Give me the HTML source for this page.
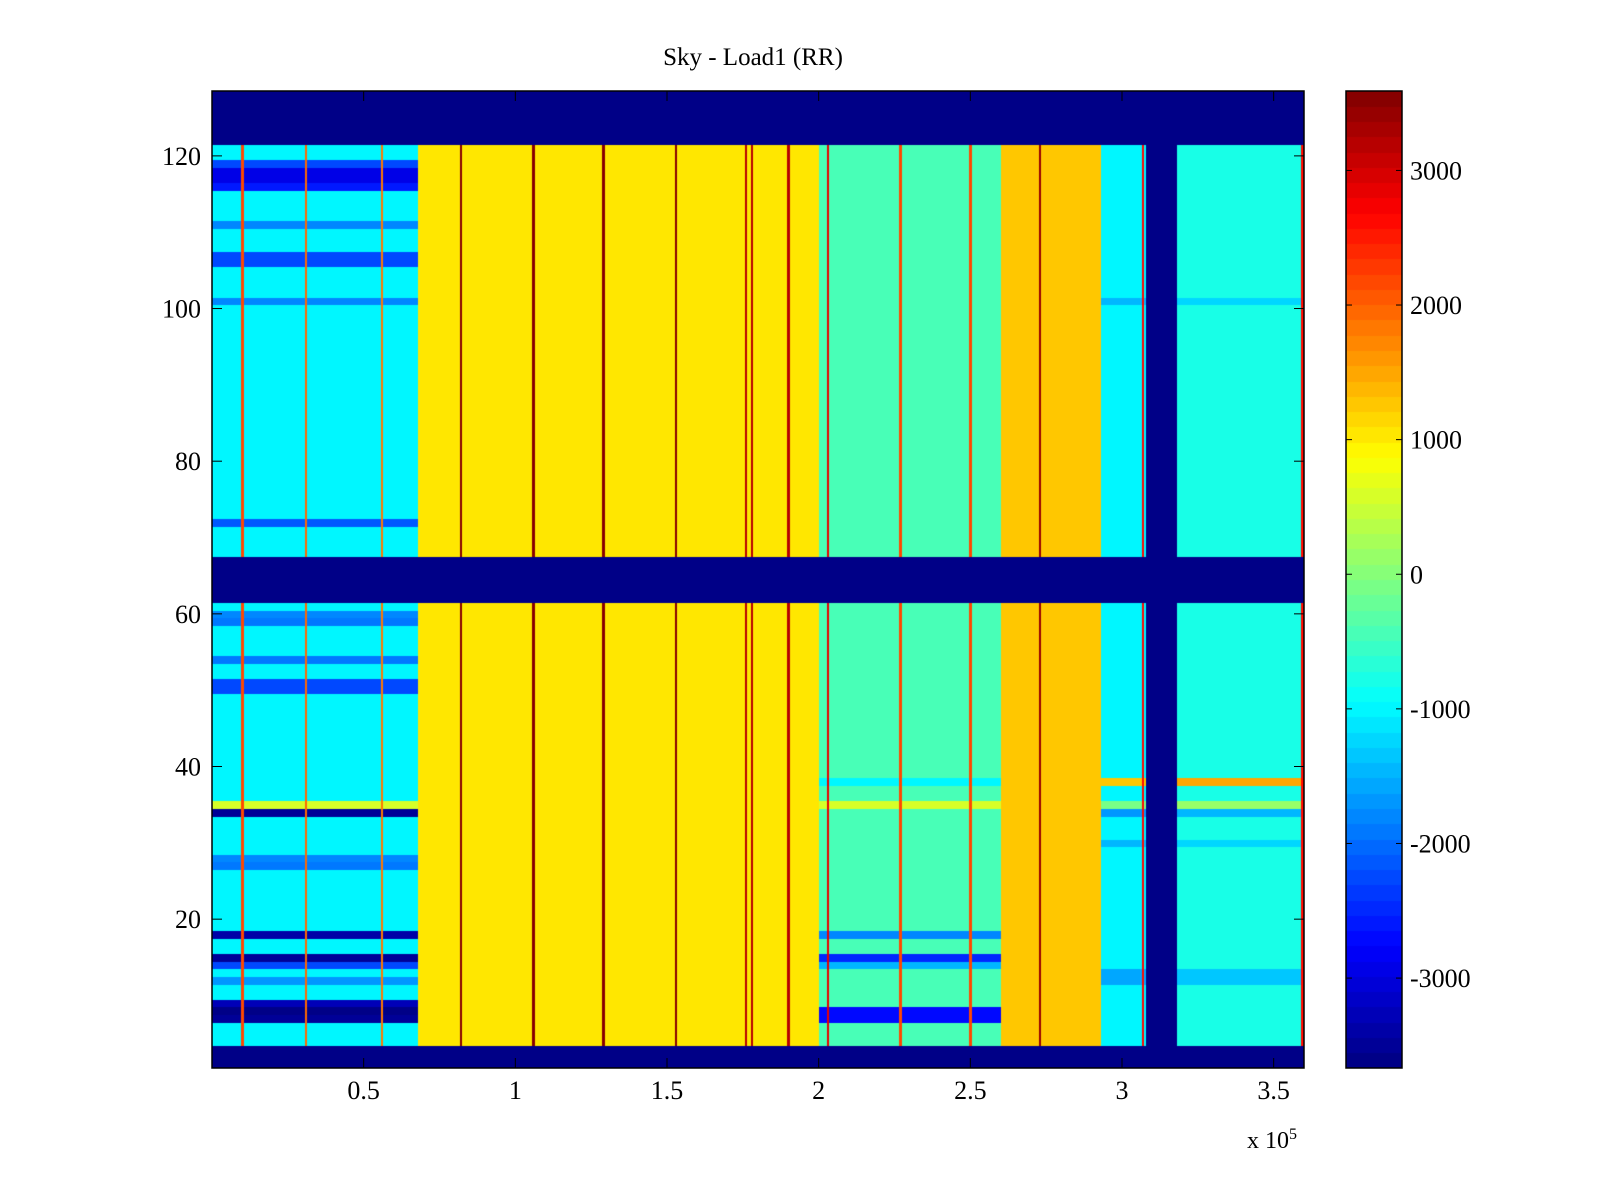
<!DOCTYPE html>
<html><head><meta charset="utf-8"><style>
body{margin:0;background:#fff;width:1600px;height:1200px;position:relative;overflow:hidden;font-family:"Liberation Serif",serif;color:#000}
.t{position:absolute;font-size:24px;white-space:nowrap}
</style></head><body>
<div class="t" style="left:0;width:1506px;text-align:center;top:44px;font-size:25px">Sky - Load1 (RR)</div>
<canvas id="hm" width="1092" height="977" style="position:absolute;left:212px;top:91px"></canvas>
<canvas id="cb" width="56" height="977" style="position:absolute;left:1346px;top:91px"></canvas>
<svg id="ax" width="1600" height="1200" style="position:absolute;left:0;top:0"></svg>
<div class="t" style="left:1247px;top:1126px">x 10<sup style="font-size:16px">5</sup></div>
<script>
// ---- data ----
const segStart=[0,0.68,2.0,2.6,2.93,3.08,3.18];
const segValue=[-950,1050,-450,1250,-950,-3668,-750];
const lineX=[0.10,0.31,0.56,0.82,1.06,1.29,1.53,1.76,1.78,1.90,2.03,2.27,2.50,2.73,3.07,3.595];
const lineVal=[2200,2000,1800,3500,3500,3500,3500,3200,3200,3200,2800,2200,2200,3400,2600,2600];
const blankRows=[1,2,3,62,63,64,65,66,67,122,123,124,125,126,127,128];
const leftRows=[116,117,118,119,111,106,107,101,72,59,60,54,50,51,35,34,27,28,18,15,14,9,8,7,12];
const leftDelta=[-1600,-2000,-2000,-1300,-800,-1300,-1300,-800,-1200,-1000,-800,-1000,-1300,-1300,1500,-2600,-1000,-800,-2400,-2600,-1300,-2300,-2700,-2600,-700];
const midRows=[38,18,15,14,8,7,35];
const midDelta=[-600,-1300,-2000,-1000,-2300,-2200,1000];
const rightRows=[38,35,34,30,13,12,101];
const rightDelta=[2200,900,-700,-500,-600,-600,-500];
const cbTicks=[3000,2000,1000,0,-1000,-2000,-3000];
const xTicks=[0.5,1,1.5,2,2.5,3,3.5];
const yTicks=[20,40,60,80,100,120];
// ---- scales ----
const PL=212,PT=91,PW=1092,PH=977,XMAX=3.6,YMIN=0.5,YMAX=128.5,CMIN=-3668,CMAX=3590;
const xs=v=>PL+v/XMAX*PW;
const ys=v=>PT+(YMAX-v)/(YMAX-YMIN)*PH;
const cs=v=>PT+(CMAX-v)/(CMAX-CMIN)*PH;
function jet(v){let t=(v-CMIN)/(CMAX-CMIN);t=Math.max(0,Math.min(1,t));t=(Math.floor(t*63.999)+0.5)/64;
 const c=x=>Math.round(255*Math.max(0,Math.min(1,x)));
 return `rgb(${c(1.5-Math.abs(4*t-3))},${c(1.5-Math.abs(4*t-2))},${c(1.5-Math.abs(4*t-1))})`;}
function valueAt(x,row){
 if(blankRows.includes(row))return CMIN;
 let s=0;for(let i=0;i<segStart.length;i++)if(x>=segStart[i])s=i;
 let v=segValue[s];
 if(s===5)return v;
 const look=(R,D)=>{const k=R.indexOf(row);return k>=0?D[k]:0;};
 if(s===0)v+=look(leftRows,leftDelta);
 if(s===2)v+=look(midRows,midDelta);
 if(s===4||s===6)v+=look(rightRows,rightDelta);
 for(let i=0;i<lineX.length;i++)if(Math.abs(x-lineX[i])<0.004)v=Math.max(v,lineVal[i]);
 return v;}
// ---- heatmap ----
const hm=document.getElementById('hm').getContext('2d');
for(let row=1;row<=128;row++){
 const y0=ys(row+0.5)-PT,y1=ys(row-0.5)-PT;
 for(let px=0;px<PW;px++){
  const x=(px+0.5)/PW*XMAX;
  hm.fillStyle=jet(valueAt(x,row));
  hm.fillRect(px,Math.floor(y0),1,Math.ceil(y1)-Math.floor(y0));
 }}
// ---- colorbar ----
const cb=document.getElementById('cb').getContext('2d');
for(let i=0;i<64;i++){const a=CMIN+(CMAX-CMIN)*i/64,b=CMIN+(CMAX-CMIN)*(i+1)/64;
 cb.fillStyle=jet((a+b)/2);const y0=cs(b)-PT,y1=cs(a)-PT;cb.fillRect(0,Math.floor(y0),56,Math.ceil(y1)-Math.floor(y0));}
// ---- axes ----
const ax=document.getElementById('ax');const NS='http://www.w3.org/2000/svg';
function mk(tag,attrs,name){const e=document.createElementNS(NS,tag);for(const k in attrs)e.setAttribute(k,attrs[k]);
 
 
 ax.appendChild(e);return e;}
mk('rect',{x:PL,y:PT,width:PW,height:PH,fill:'none',stroke:'#000','stroke-width':1.5},'plot-frame');
mk('rect',{x:1346,y:PT,width:56,height:PH,fill:'none',stroke:'#000','stroke-width':1.5},'colorbar-frame');
xTicks.forEach(t=>{const x=xs(t);
 mk('line',{x1:x,x2:x,y1:PT+PH,y2:PT+PH-10,stroke:'#000'},'x-tick');
 mk('line',{x1:x,x2:x,y1:PT,y2:PT+10,stroke:'#000'},'x-tick-top');
 const tx=mk('text',{x:x,y:1113-14,'text-anchor':'middle','font-size':26,'font-family':'Liberation Serif, serif'},'x-tick-label');tx.textContent=String(t);});
yTicks.forEach(t=>{const y=ys(t);
 mk('line',{x1:PL,x2:PL+10,y1:y,y2:y,stroke:'#000'},'y-tick');
 mk('line',{x1:PL+PW,x2:PL+PW-10,y1:y,y2:y,stroke:'#000'},'y-tick-right');
 const tx=mk('text',{x:PL-11,y:y+9,'text-anchor':'end','font-size':26,'font-family':'Liberation Serif, serif'},'y-tick-label');tx.textContent=String(t);});
cbTicks.forEach(t=>{const y=cs(t);
 mk('line',{x1:1346,x2:1352,y1:y,y2:y,stroke:'#000'},'colorbar-tick');
 mk('line',{x1:1402,x2:1396,y1:y,y2:y,stroke:'#000'},'colorbar-tick-right');
 const tx=mk('text',{x:1410,y:y+9,'font-size':26,'font-family':'Liberation Serif, serif'},'colorbar-tick-label');tx.textContent=String(t);});
</script>
</body></html>
